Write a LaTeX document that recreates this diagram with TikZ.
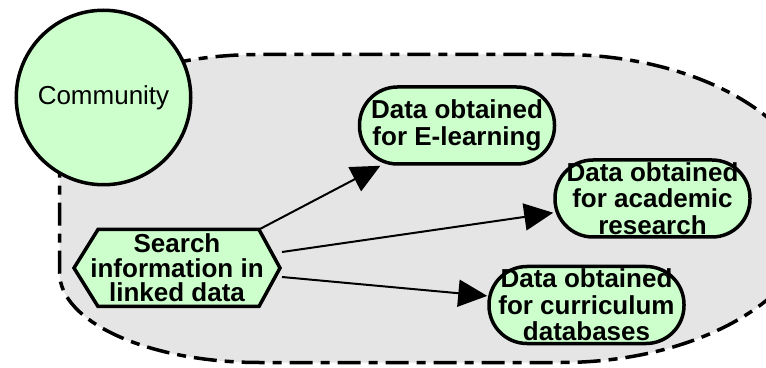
\documentclass[tikz,border=0pt]{standalone}
\usepackage{fontspec}
\setmainfont{Liberation Sans}
\usetikzlibrary{arrows.meta,calc}
\definecolor{nodegreen}{HTML}{CCFFCC}
\definecolor{regiongray}{HTML}{E5E5E5}
\begin{document}
\begin{tikzpicture}[x=1pt,y=1pt,
  region/.style={fill=regiongray, draw=black, line width=3.5pt, line cap=butt,
    dash pattern=on 23pt off 8pt on 9pt off 8pt},
  actor/.style={circle, draw=black, fill=nodegreen, line width=3.5pt,
    minimum size=174.5pt, inner sep=0pt, font=\fontsize{26}{26}\selectfont},
  usecase/.style={rectangle, rounded corners=38pt, draw=black, fill=nodegreen,
    line width=3.5pt, minimum width=195pt, minimum height=77pt, inner sep=0pt,
    align=center, font=\bfseries\fontsize{26}{26.5}\selectfont},
  hexlabel/.style={rectangle, minimum width=206pt, minimum height=77pt,
    inner sep=0pt, align=center, font=\bfseries\fontsize{26}{24.5}\selectfont},
  hexshape/.style={draw=black, fill=nodegreen, line width=3.5pt, line join=miter},
  flow/.style={line width=2pt, -{Triangle[length=29pt,width=27pt]}}]
\useasboundingbox (0,0) rectangle (766,367);
\clip (0,0) rectangle (766,367);
% community region
\draw[region] (59.5,222.5)
  arc[start angle=180, end angle=90, x radius=200, y radius=90]
  -- (561,312.5)
  arc[start angle=90, end angle=-90, x radius=256, y radius=154]
  -- (259.5,4.5)
  arc[start angle=270, end angle=180, x radius=200, y radius=90]
  -- cycle;
% actor
\node (comm) [actor] at (103.5,269.5) {Community};
% hexagon
\draw[hexshape, shift={(177,99)}] (-103,0) -- (-79,38.5) -- (82,38.5)
  -- (103,0) -- (82,-38.5) -- (-79,-38.5) -- cycle;
\node (hex) [hexlabel] at (177,99) {Search\\information in\\linked data};
% use cases
\node (el) [usecase] at (457,241.5) {Data obtained\\for E-learning};
\node (ac) [usecase] at (652.5,168.5) {Data obtained\\for academic\\research};
\node (cu) [usecase] at (586.5,62) {Data obtained\\for curriculum\\databases};
% connectors
\coordinate (s1) at ($(hex.center)+(82,38.5)$);
\coordinate (s2) at ($(hex.center)+(105,16)$);
\coordinate (s3) at ($(hex.center)+(105,-9)$);
\draw[flow] (s1) -- (el);
\draw[flow] (s2) -- (ac);
\draw[flow] (s3) -- (cu);
\end{tikzpicture}
\end{document}
